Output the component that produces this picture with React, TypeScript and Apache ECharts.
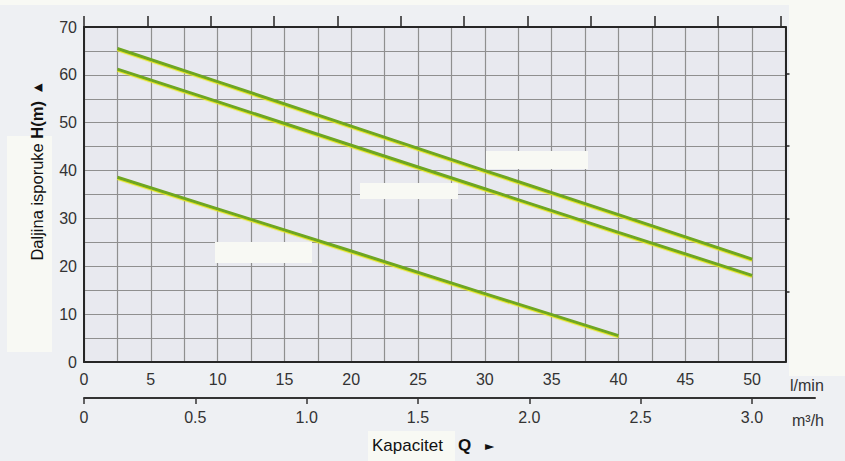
import React, { useEffect, useRef } from "react";
import * as echarts from "echarts";

// Flow in l/min, head in m
const curveA: [number, number][] = [
  [2.5, 65.5], [10, 58.6], [20, 49.3], [30, 40.0], [40, 30.8], [50, 21.5],
];
const curveB: [number, number][] = [
  [2.5, 61.2], [10, 54.4], [20, 45.3], [30, 36.2], [40, 27.1], [50, 18.1],
];
const curveC: [number, number][] = [
  [2.5, 38.6], [10, 32.0], [20, 23.2], [30, 14.3], [40, 5.5],
];
const m3hTicks = [0, 0.5, 1.0, 1.5, 2.0, 2.5, 3.0];
const topTicks = [0, 1, 2, 3, 4, 5, 6, 7, 8, 9, 10, 11];
const rightTicks = [14.6, 29.9, 45.1, 60.3];

const FONT = "'Liberation Sans', Arial, Helvetica, sans-serif";
const LINE_COLOR = "#6ea620";
const GRID_COLOR = "#8f8f8f";
const AXIS_COLOR = "#262626";
const PATCH = "#f8f9f4";

export default function App() {
  const ref = useRef<HTMLDivElement>(null);
  useEffect(() => {
    if (!ref.current) return;
    const chart = echarts.init(ref.current, null, { renderer: "svg" });
    const lineSeries = (data: [number, number][]) => ({
      type: "line",
      data,
      xAxisIndex: 0,
      yAxisIndex: 0,
      showSymbol: false,
      symbol: "none",
      smooth: false,
      z: 5,
      lineStyle: {
        color: LINE_COLOR,
        width: 3,
        shadowColor: "#dfe41a",
        shadowOffsetY: 1.2,
        shadowBlur: 0,
      },
    });
    chart.setOption({
      animation: false,
      backgroundColor: "transparent",
      textStyle: { fontFamily: FONT },
      grid: [
        {
          left: 84, top: 27, width: 701.5, height: 335,
          show: true, backgroundColor: "#e8e9ef", borderWidth: 0,
        },
        { left: 84, top: 397, width: 731, height: 1, show: false },
      ],
      xAxis: [
        {
          type: "value", gridIndex: 0, position: "bottom",
          min: 0, max: 52.5, interval: 2.5,
          axisLine: { show: true, onZero: false, lineStyle: { color: AXIS_COLOR, width: 2 } },
          axisTick: { show: false },
          axisLabel: {
            color: "#333", fontSize: 16, fontFamily: FONT, margin: 9,
            showMaxLabel: false,
            formatter: (v: number) => (v % 5 === 0 && v <= 50 ? String(v) : ""),
          },
          splitLine: { show: true, lineStyle: { color: GRID_COLOR, width: 1.2 } },
        },
        {
          type: "value", gridIndex: 0, position: "top",
          min: 0, max: 11.07, interval: 1,
          axisLine: { show: true, onZero: false, lineStyle: { color: AXIS_COLOR, width: 2 } },
          axisTick: {
            show: true, length: 11, customValues: topTicks,
            lineStyle: { color: AXIS_COLOR, width: 1.5 },
          },
          axisLabel: { show: false },
          splitLine: { show: false },
        },
        {
          type: "value", gridIndex: 1, position: "bottom",
          min: 0, max: 3.283,
          axisLine: { show: true, onZero: false, lineStyle: { color: "#333", width: 2 } },
          axisTick: {
            show: true, length: 6, customValues: m3hTicks,
            lineStyle: { color: "#333", width: 1.5 },
          },
          axisLabel: {
            color: "#333", fontSize: 16, fontFamily: FONT, margin: 11,
            customValues: m3hTicks,
            formatter: (v: number) => (v === 0 ? "0" : v.toFixed(1)),
          },
          splitLine: { show: false },
        },
      ],
      yAxis: [
        {
          type: "value", gridIndex: 0, position: "left",
          min: 0, max: 70, interval: 5,
          axisLine: { show: true, onZero: false, lineStyle: { color: AXIS_COLOR, width: 2 } },
          axisTick: { show: false },
          axisLabel: {
            color: "#333", fontSize: 16, fontFamily: FONT, margin: 7,
            formatter: (v: number) => (v % 10 === 0 ? String(v) : ""),
          },
          splitLine: { show: true, lineStyle: { color: GRID_COLOR, width: 1.2 } },
        },
        {
          type: "value", gridIndex: 0, position: "right",
          min: 0, max: 70,
          axisLine: { show: true, onZero: false, lineStyle: { color: AXIS_COLOR, width: 2 } },
          axisTick: {
            show: true, length: 4, customValues: rightTicks,
            lineStyle: { color: AXIS_COLOR, width: 1.5 },
          },
          axisLabel: { show: false },
          splitLine: { show: false },
        },
        {
          type: "value", gridIndex: 1, show: false, min: 0, max: 1,
        },
      ],
      graphic: [
        // scanned-page white patches
        { type: "rect", z: -10, shape: { x: 0, y: 0, width: 845, height: 5 }, style: { fill: PATCH } },
        { type: "rect", z: -10, shape: { x: 789, y: 5, width: 56, height: 371 }, style: { fill: PATCH } },
        { type: "rect", z: -10, shape: { x: 7, y: 136, width: 45, height: 216 }, style: { fill: PATCH } },
        { type: "rect", z: -10, shape: { x: 368, y: 431, width: 87, height: 30 }, style: { fill: PATCH } },
        // covered label boxes inside the plot
        { type: "rect", z: 3, shape: { x: 215, y: 242, width: 97, height: 21 }, style: { fill: PATCH } },
        { type: "rect", z: 3, shape: { x: 360, y: 183, width: 98, height: 16 }, style: { fill: PATCH } },
        { type: "rect", z: 3, shape: { x: 486, y: 151, width: 102, height: 18 }, style: { fill: PATCH } },
        // unit labels
        {
          type: "text", z: 10, x: 790, y: 385,
          style: { text: "l/min", fontSize: 16, fontFamily: FONT, fill: "#333", align: "left", verticalAlign: "middle" },
        },
        {
          type: "text", z: 10, x: 792, y: 420,
          style: { text: "m³/h", fontSize: 16, fontFamily: FONT, fill: "#333", align: "left", verticalAlign: "middle" },
        },
        // x title
        {
          type: "text", z: 10, x: 372, y: 445,
          style: { text: "Kapacitet", fontSize: 17, fontFamily: FONT, fill: "#111", align: "left", verticalAlign: "middle" },
        },
        {
          type: "text", z: 10, x: 458, y: 445,
          style: { text: "Q", fontSize: 17, fontWeight: "bold", fontFamily: FONT, fill: "#111", align: "left", verticalAlign: "middle" },
        },
        {
          type: "text", z: 10, x: 485, y: 446,
          style: { text: "►", fontSize: 12, fontFamily: "'DejaVu Sans', sans-serif", fill: "#111", align: "left", verticalAlign: "middle" },
        },
        // y title
        {
          type: "text", z: 10, x: 37, y: 172, rotation: Math.PI / 2,
          style: {
            text: "Daljina isporuke {b|H(m)}  {t|▲}",
            fontSize: 16.5, fontFamily: FONT, fill: "#111",
            align: "center", verticalAlign: "middle",
            rich: {
              b: { fontSize: 16.5, fontWeight: "bold", fontFamily: FONT, fill: "#111" },
              t: { fontSize: 11, fontFamily: "'DejaVu Sans', sans-serif", fill: "#111" },
            },
          },
        },
      ],
      series: [lineSeries(curveA), lineSeries(curveB), lineSeries(curveC)],
    });
    return () => chart.dispose();
  }, []);
  return (
    <div
      ref={ref}
      style={{
        position: "fixed", left: 0, top: 0, width: 845, height: 461,
        background: "#eef0f3",
      }}
    />
  );
}
